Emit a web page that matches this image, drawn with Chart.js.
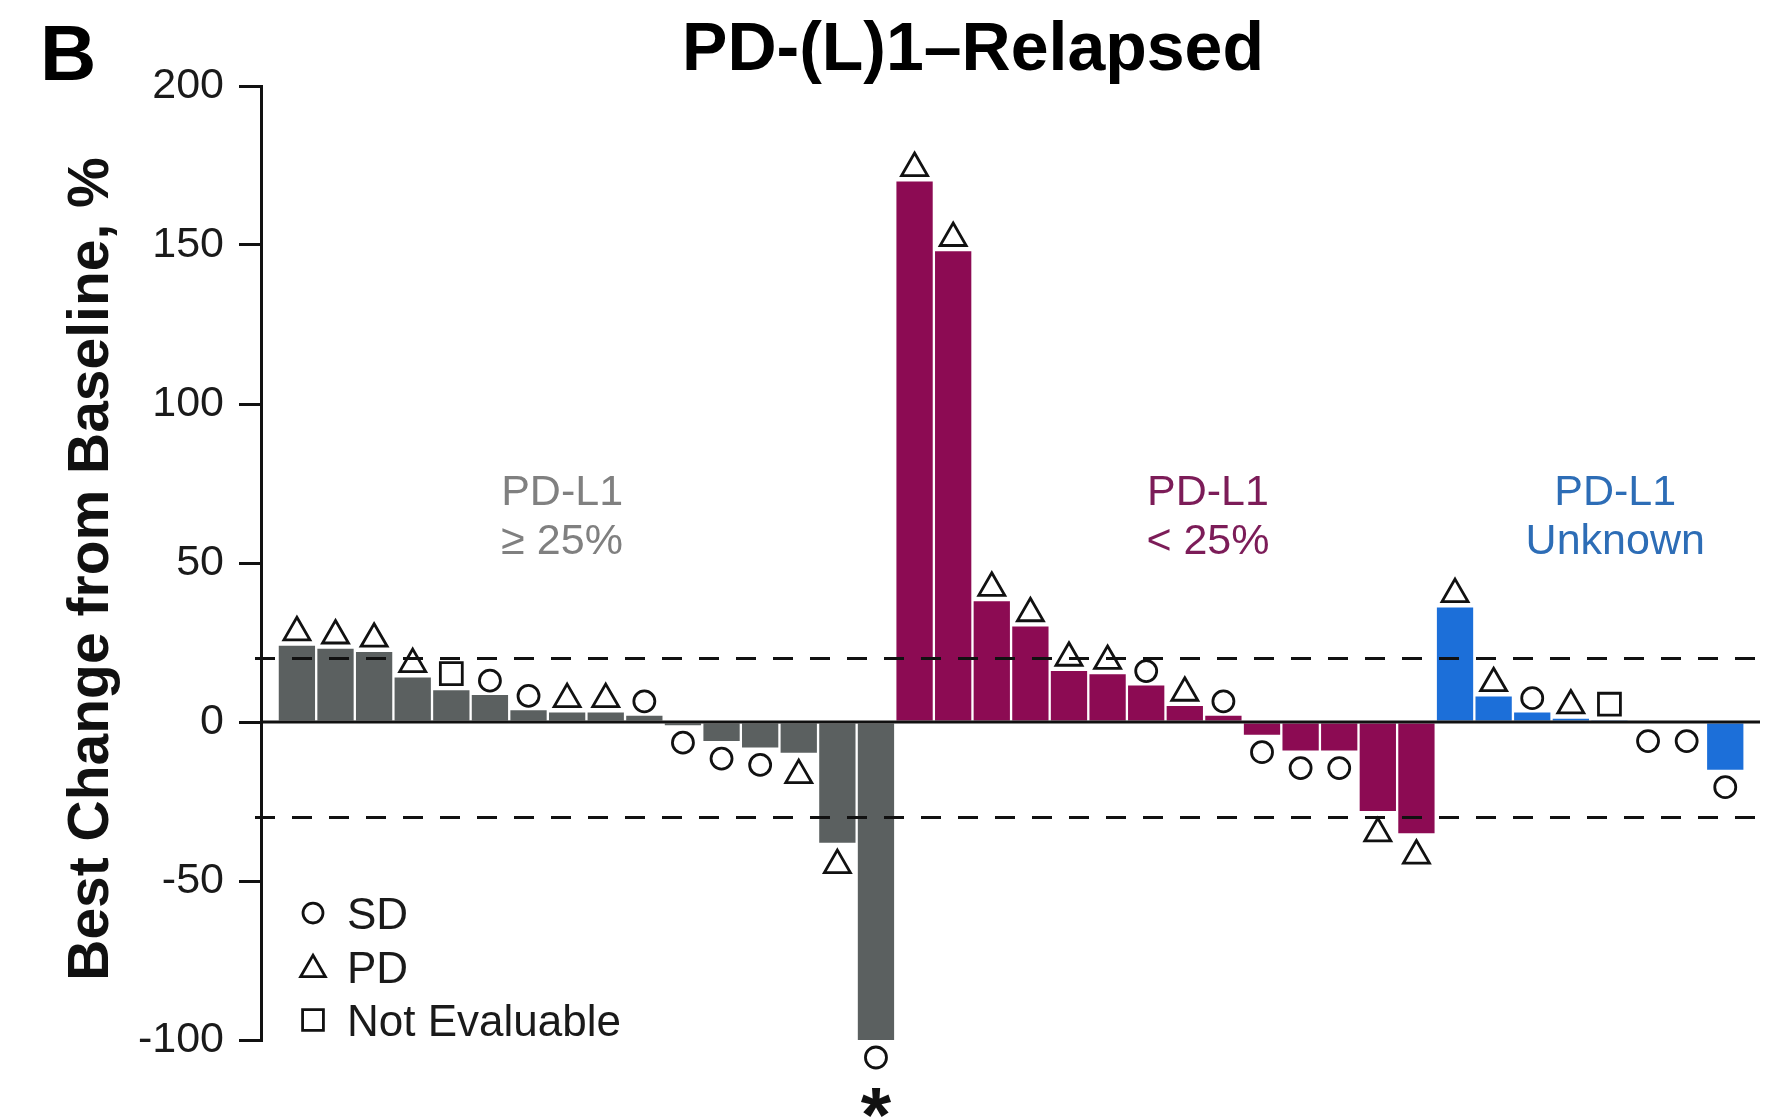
<!DOCTYPE html>
<html>
<head>
<meta charset="utf-8">
<script src="https://cdn.jsdelivr.net/npm/chart.js@4.4.1/dist/chart.umd.min.js"></script>
<style>
  html, body { margin: 0; padding: 0; background: #fff; }
</style>
</head>
<body>
<canvas id="chart" width="1783" height="1118"></canvas>
<script>
// Best change from baseline (%) per patient, by PD-L1 group
const groupNames = [['PD-L1', '\u2265 25%'], ['PD-L1', '< 25%'], ['PD-L1', 'Unknown']];
const barColors = ['#5b6060', '#8c0b53', '#1c6fd9'];
const textColors = ['#808080', '#7c1c58', '#2d6db6'];

const changeHigh = [24, 23, 22, 14, 10, 8.5, 3.7, 3, 3, 2, -1, -6, -8, -9.7, -38, -100];
const respHigh = ['PD', 'PD', 'PD', 'PD', 'NE', 'SD', 'SD', 'PD', 'PD', 'SD', 'SD', 'SD', 'SD', 'PD', 'PD', 'SD'];
const changeLow = [170, 148, 38, 30, 16, 15, 11.5, 5, 2, -4, -9, -9, -28, -35];
const respLow = ['PD', 'PD', 'PD', 'PD', 'PD', 'PD', 'SD', 'PD', 'SD', 'SD', 'SD', 'SD', 'PD', 'PD'];
const changeUnknown = [36, 8, 3, 1, 0.4, -0.5, -0.5, -15];
const respUnknown = ['PD', 'PD', 'SD', 'PD', 'NE', 'SD', 'SD', 'SD'];

const thresholds = [20, -30];
const yTicks = [-100, -50, 0, 50, 100, 150, 200];
const legendItems = [['SD', 'SD'], ['PD', 'PD'], ['NE', 'Not Evaluable']];
const starredPatient = 15; // the -100 bar

// Marker look and gap from bar end (in axis units: [above, below])
const markerStyle = {
    SD: { pointStyle: 'circle', radius: 10.5 },
    PD: { pointStyle: 'triangle', radius: 15 },
    NE: { pointStyle: 'rect', radius: 15.5 }
};
const markerGap = { SD: [4.5, 5.5], PD: [4.2, 7], NE: [5.2, 5.2] };

const FONT = '"Liberation Sans", Arial, Helvetica, sans-serif';

// Juntar los grupos
const values = [...changeHigh, ...changeLow, ...changeUnknown];
const responses = [...respHigh, ...respLow, ...respUnknown];
const groupOf = [
    ...changeHigh.map(() => 0),
    ...changeLow.map(() => 1),
    ...changeUnknown.map(() => 2)
];

const barData = values.map((v, i) => ({ x: i, y: v }));

function markerData(type) {
    const pts = [];
    values.forEach((v, i) => {
        if (responses[i] !== type) return;
        const gap = markerGap[type];
        pts.push({ x: i, y: v >= 0 ? v + gap[0] : v - gap[1] });
    });
    return pts;
}

const markerSets = Object.keys(markerStyle).map(type => ({
    type: 'scatter',
    label: type,
    data: markerData(type),
    pointStyle: markerStyle[type].pointStyle,
    pointRadius: markerStyle[type].radius,
    pointHoverRadius: markerStyle[type].radius,
    pointBorderWidth: 2.8,
    pointBorderColor: '#111',
    pointBackgroundColor: 'rgba(0,0,0,0)',
    clip: false,
    order: 1
}));

// Lineas de referencia, titulos, leyenda
const decor = {
    id: 'decor',
    beforeDraw(chart) {
        const ctx = chart.ctx;
        ctx.save();
        ctx.fillStyle = '#fff';
        ctx.fillRect(0, 0, chart.width, chart.height);
        ctx.restore();
    },
    afterDatasetDraw(chart, args) {
        if (args.index !== 0) return;
        const { ctx, chartArea, scales: { y } } = chart;
        ctx.save();
        ctx.strokeStyle = '#111';
        ctx.lineWidth = 3;
        ctx.setLineDash([20, 17]);
        thresholds.forEach(t => {
            const py = y.getPixelForValue(t);
            ctx.beginPath();
            ctx.moveTo(chartArea.left - 6, py);
            ctx.lineTo(chartArea.right, py);
            ctx.stroke();
        });
        ctx.setLineDash([]);
        const z = y.getPixelForValue(0);
        ctx.beginPath();
        ctx.moveTo(chartArea.left, z);
        ctx.lineTo(chartArea.right, z);
        ctx.stroke();
        ctx.restore();
    },
    afterDatasetsDraw(chart) {
        // markers that sit past the axis ends are skipped by Chart.js; draw them again
        const { ctx, chartArea } = chart;
        const whole = { left: 0, top: 0, right: chart.width, bottom: chart.height };
        chart.data.datasets.forEach((ds, i) => {
            if (ds.type !== 'scatter') return;
            chart.getDatasetMeta(i).data.forEach(pt => {
                if (pt.y > chartArea.bottom - 12 || pt.y < chartArea.top + 12) pt.draw(ctx, whole);
            });
        });
    },
    afterDraw(chart) {
        const { ctx, scales: { x, y } } = chart;
        ctx.save();

        // panel letter and title
        ctx.fillStyle = '#000';
        ctx.textAlign = 'left';
        ctx.textBaseline = 'alphabetic';
        ctx.font = 'bold 78px ' + FONT;
        ctx.fillText('B', 40, 80);
        ctx.textAlign = 'center';
        ctx.font = 'bold 68px ' + FONT;
        ctx.fillText('PD-(L)1\u2013Relapsed', 973, 70);

        // y axis title
        ctx.save();
        ctx.translate(108, 569);
        ctx.rotate(-Math.PI / 2);
        ctx.font = 'bold 57px ' + FONT;
        ctx.fillStyle = '#111';
        ctx.fillText('Best Change from Baseline, %', 0, 0);
        ctx.restore();

        // group labels
        const labelAt = [6.87, 23.6, 34.15];
        ctx.font = '43px ' + FONT;
        groupNames.forEach((lines, g) => {
            ctx.fillStyle = textColors[g];
            const px = x.getPixelForValue(labelAt[g]);
            ctx.fillText(lines[0], px, 505);
            ctx.fillText(lines[1], px, 554);
        });

        // asterisk under the -100 bar
        ctx.fillStyle = '#111';
        ctx.font = 'bold 78px ' + FONT;
        ctx.fillText('*', x.getPixelForValue(starredPatient), y.getPixelForValue(-100) + 102);

        // legend
        ctx.textAlign = 'left';
        ctx.font = '44px ' + FONT;
        legendItems.forEach((item, k) => {
            const cy = 913 + k * 53.5;
            const st = markerStyle[item[0]];
            ctx.strokeStyle = '#111';
            ctx.fillStyle = 'rgba(0,0,0,0)';
            ctx.lineWidth = 2.8;
            Chart.helpers.drawPoint(ctx, {
                pointStyle: st.pointStyle,
                radius: st.radius * 0.95,
                rotation: 0,
                borderWidth: 2.8
            }, 313, item[0] === 'PD' ? cy + 3 : cy);
            ctx.fillStyle = '#1a1a1a';
            ctx.fillText(item[1], 347, cy + 16);
        });

        ctx.restore();
    }
};

new Chart(document.getElementById('chart'), {
    type: 'bar',
    data: {
        datasets: [{
            label: 'Best change',
            data: barData,
            backgroundColor: groupOf.map(g => barColors[g]),
            borderWidth: 0,
            barPercentage: 0.94,
            categoryPercentage: 1,
            order: 2
        }, ...markerSets]
    },
    options: {
        responsive: false,
        animation: false,
        devicePixelRatio: 1,
        layout: { padding: { left: 0, right: 23, top: 86, bottom: 78 } },
        plugins: {
            legend: { display: false },
            tooltip: { enabled: false },
            title: { display: false }
        },
        scales: {
            x: {
                type: 'linear',
                display: false,
                offset: false,
                min: -0.93,
                max: 37.9
            },
            y: {
                min: -100,
                max: 200,
                afterFit(scale) { scale.width = 261; },
                afterBuildTicks(scale) { scale.ticks = yTicks.map(v => ({ value: v })); },
                border: { display: true, color: '#111', width: 3 },
                grid: {
                    drawOnChartArea: false,
                    drawTicks: true,
                    tickLength: 22,
                    color: '#111',
                    lineWidth: 3
                },
                ticks: {
                    padding: 15,
                    color: '#1a1a1a',
                    font: { family: FONT, size: 43 }
                }
            }
        }
    },
    plugins: [decor]
});
</script>
</body>
</html>
